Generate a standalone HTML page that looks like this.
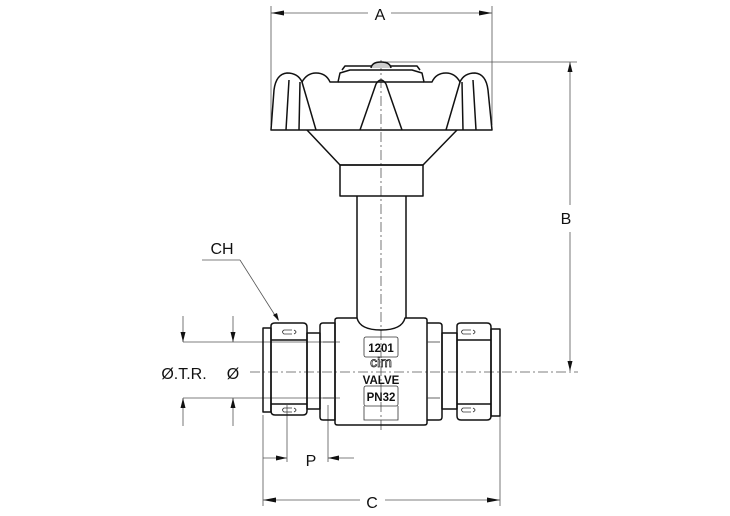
<!DOCTYPE html>
<html><head><meta charset="utf-8"><style>
html,body{margin:0;padding:0;background:#fff;}
svg{display:block;}
text{font-family:"Liberation Sans",sans-serif;fill:#111;}
</style></head><body>
<svg width="730" height="516" viewBox="0 0 730 516" xmlns="http://www.w3.org/2000/svg">
<g stroke="#555" stroke-width="0.8" fill="none">
<line x1="271" y1="6" x2="271" y2="125"/>
<line x1="492" y1="6" x2="492" y2="125"/>
<line x1="271" y1="13" x2="368" y2="13"/><line x1="391" y1="13" x2="492" y2="13"/>
<line x1="385" y1="62" x2="577" y2="62"/>
<line x1="570" y1="62" x2="570" y2="205"/><line x1="570" y1="232" x2="570" y2="371"/>
<line x1="250" y1="372" x2="578" y2="372" stroke-dasharray="10,3,2,3"/>
<line x1="381" y1="60" x2="381" y2="430" stroke-dasharray="10,3,2,3"/>
<line x1="183" y1="342" x2="340" y2="342"/><line x1="183" y1="398" x2="340" y2="398"/>
<line x1="183" y1="316" x2="183" y2="342"/><line x1="233" y1="316" x2="233" y2="342"/>
<line x1="183" y1="398" x2="183" y2="426"/><line x1="233" y1="398" x2="233" y2="426"/>
<line x1="263" y1="415" x2="263" y2="506"/>
<line x1="287" y1="405" x2="287" y2="462"/>
<line x1="328" y1="405" x2="328" y2="462"/>
<line x1="263" y1="458" x2="287" y2="458"/><line x1="328" y1="458" x2="354" y2="458"/>
<line x1="500" y1="415" x2="500" y2="506"/>
<line x1="263" y1="500" x2="360" y2="500"/><line x1="385" y1="500" x2="500" y2="500"/>
<line x1="202" y1="260" x2="240" y2="260"/>
<line x1="240" y1="260" x2="278" y2="320"/>
</g>
<g fill="#111">
<path d="M271,13 l13,-2.5 v5z"/><path d="M492,13 l-13,-2.5 v5z"/>
<path d="M570,62 l-2.5,10 h5z"/><path d="M570,371 l-2.5,-10 h5z"/>
<path d="M183,342 l-2.5,-10 h5z"/><path d="M233,342 l-2.5,-10 h5z"/>
<path d="M183,398 l-2.5,10 h5z"/><path d="M233,398 l-2.5,10 h5z"/>
<path d="M287,458 l-11,-2.5 v5z"/><path d="M328,458 l11,-2.5 v5z"/>
<path d="M263,500 l13,-2.5 v5z"/><path d="M500,500 l-13,-2.5 v5z"/>
<path d="M279,321 l-6,-6 l4,-2z"/>
</g>
<g stroke="#111" stroke-width="1.5" fill="none" stroke-linejoin="round">
<path d="M271,130 L274,90 Q276,74 287,73 Q298,73 302,82 Q307,73 316,73 Q326,73 330,82 L338,82 L340,73 L350,70 L412,70 L422,73 L424,82 L432,82 Q436,73 446,73 Q455,73 460,82 Q464,73 475,73 Q486,74 488,90 L492,130 Z"/>
<path d="M338,82 L424,82"/>
<path d="M300,82 L299,130 M289,80 L286,130"/>
<path d="M462,82 L463,130 M473,80 L476,130"/>
<path d="M302,82 L316,130 M460,82 L446,130"/>
<path d="M360,130 L376,84 Q381,76 386,84 L402,130"/>
<path d="M342,70 L345,66 L417,66 L420,70"/>
<path d="M371,68 Q372,62 381,62 Q390,62 391,68" fill="#ccc"/>
<path d="M307,130 L340,165 L423,165 L457,130"/>
<rect x="340" y="165" width="83" height="31"/>
<path d="M357,196 V318 M406,196 V318"/>
<path d="M335,320 Q335,318 338,318 L357,318 Q360,330 381,330 Q402,330 405,318 L424,318 Q427,318 427,320 V423 Q427,425 424,425 H338 Q335,425 335,423 Z"/>
<rect x="263" y="328" width="8" height="84"/>
<path d="M271,326 Q271,323 275,323 H303 Q307,323 307,327 V411 Q307,415 303,415 H275 Q271,415 271,411 Z"/>
<path d="M271,340 H307 M271,404 H307"/>
<rect x="307" y="333" width="13" height="76"/>
<path d="M320,326 Q320,323 323,323 H335 V420 H323 Q320,420 320,417 Z"/>
<path d="M427,323 H439 Q442,323 442,326 V417 Q442,420 439,420 H427"/>
<rect x="442" y="333" width="15" height="76"/>
<path d="M457,326 Q457,323 461,323 H487 Q491,323 491,327 V416 Q491,420 487,420 H461 Q457,420 457,416 Z"/>
<path d="M457,340 H491 M457,404 H491"/>
<rect x="491" y="329" width="9" height="87"/>
</g>
<g stroke="#333" stroke-width="0.8" fill="none">
<path d="M292,330 H284 Q281,332 284,334 H292 M294,330 Q298,332 294,334"/>
<path d="M292,408 H284 Q281,410 284,412 H292 M294,408 Q298,410 294,412"/>
<path d="M471,330 H463 Q460,332 463,334 H471 M473,330 Q477,332 473,334"/>
<path d="M471,408 H463 Q460,410 463,412 H471 M473,408 Q477,410 473,412"/>
<path d="M323,342 H335 M323,398 H335 M427,342 H440 M427,398 H440"/>
<rect x="364" y="337" width="34" height="20" rx="2"/>
<rect x="364" y="386" width="34" height="20" rx="2"/>
<path d="M364,406 V420 H398 V406"/>
</g>
<g font-size="11.5" font-weight="bold" text-anchor="middle">
<text x="381" y="352">1201</text>
<text x="381" y="367" font-size="14" font-weight="normal" style="fill:none;stroke:#111;stroke-width:0.7">cim</text>
<text x="381" y="384">VALVE</text>
<text x="381" y="401">PN32</text>
</g>
<g font-size="16" text-anchor="middle">
<text x="380" y="20">A</text>
<text x="566" y="224">B</text>
<text x="372" y="508">C</text>
<text x="311" y="466">P</text>
<text x="222" y="254">CH</text>
<text x="184" y="379">Ø.T.R.</text>
<text x="233" y="379">Ø</text>
</g>
</svg>
</body></html>
